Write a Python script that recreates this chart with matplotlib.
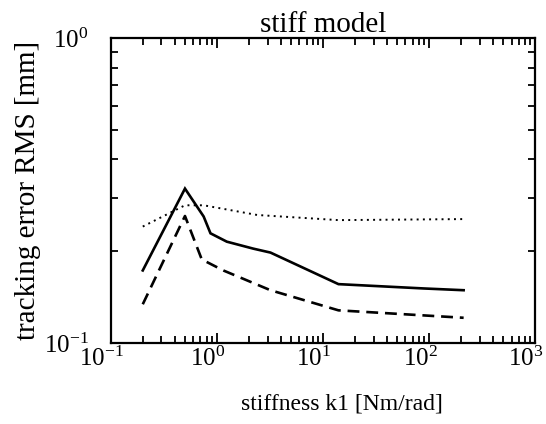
"""Tracking error RMS vs. stiffness k1 for the stiff model (log-log)."""
import matplotlib

matplotlib.use("Agg")
import matplotlib.pyplot as plt
import matplotlib.transforms as mtransforms
from matplotlib.ticker import FixedLocator, LogLocator, NullFormatter

plt.rcParams["font.family"] = ["Liberation Serif", "DejaVu Serif"]
plt.rcParams["mathtext.fontset"] = "custom"
plt.rcParams["mathtext.rm"] = "Liberation Serif"
plt.rcParams["mathtext.it"] = "Liberation Serif:italic"

# values
k_solid = [0.2, 0.5, 0.75, 0.87, 1.24, 2.2, 3.2, 14, 89, 212]
rms_solid = [0.173, 0.321, 0.26, 0.229, 0.215, 0.204, 0.198, 0.156, 0.151, 0.149]

k_dashed = [0.2, 0.5, 0.72, 1.15, 3.2, 14, 212]
rms_dashed = [0.134, 0.261, 0.188, 0.173, 0.149, 0.128, 0.121]

k_dotted = [0.2, 0.5, 0.75, 2.4, 14, 212]
rms_dotted = [0.241, 0.283, 0.283, 0.263, 0.253, 0.255]

x_ticks = [1e-1, 1e0, 1e1, 1e2, 1e3]
x_ticklabels = ["$10^{-1}$", "$10^{0}$", "$10^{1}$", "$10^{2}$", "$10^{3}$"]
y_ticks = [1e-1, 1e0]
y_ticklabels = ["$10^{-1}$", "$10^{0}$"]

fig = plt.figure(figsize=(5.46, 4.24), dpi=100)
ax = fig.add_axes([0.203, 0.191, 0.777, 0.719])

ax.plot(k_solid, rms_solid, color="black", lw=1.9, solid_joinstyle="miter")
ax.plot(k_dashed, rms_dashed, color="black", lw=1.9, linestyle=(0, (4.5, 2.6)))
ax.plot(k_dotted, rms_dotted, color="black", lw=1.4, linestyle=(0, (1, 2.2)))

ax.set_xscale("log")
ax.set_yscale("log")
ax.set_xlim(1e-1, 1e3)
ax.set_ylim(1e-1, 1e0)

ax.xaxis.set_major_locator(FixedLocator(x_ticks))
ax.set_xticklabels(x_ticklabels)
ax.xaxis.set_minor_locator(LogLocator(base=10, subs=range(2, 10)))
ax.xaxis.set_minor_formatter(NullFormatter())
ax.yaxis.set_major_locator(FixedLocator(y_ticks))
ax.set_yticklabels(y_ticklabels)
ax.yaxis.set_minor_locator(LogLocator(base=10, subs=range(2, 10)))
ax.yaxis.set_minor_formatter(NullFormatter())

ax.tick_params(which="both", direction="in", top=True, right=True, width=1.3,
               color="black")
ax.tick_params(which="major", length=7)
ax.tick_params(which="minor", length=5)
ax.tick_params(axis="x", which="major", labelsize=18, pad=3)
ax.tick_params(axis="y", which="major", labelsize=18, pad=16)

# labels in the scan sit a little left of their ticks
shift = mtransforms.ScaledTranslation(-0.09, 0, fig.dpi_scale_trans)
for lbl in ax.get_xticklabels():
    lbl.set_transform(lbl.get_transform() + shift)

for sp in ax.spines.values():
    sp.set_linewidth(1.6)

ax.set_title("stiff model", fontsize=21, pad=1)
ax.set_xlabel("stiffness k1 [Nm/rad]", fontsize=17)
ax.xaxis.set_label_coords(0.545, -0.165)
ax.set_ylabel("tracking error RMS [mm]", fontsize=21)
ax.yaxis.set_label_coords(-0.165, 0.5)

fig.savefig("out.png", dpi=100)
